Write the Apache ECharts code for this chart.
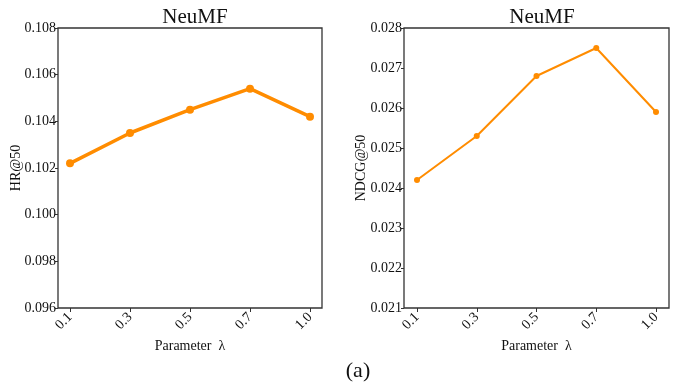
<!DOCTYPE html>
<html>
<head>
<meta charset="utf-8">
<script src="https://cdn.jsdelivr.net/npm/echarts@6/dist/echarts.min.js"></script>
<style>
  html, body { margin: 0; padding: 0; background: #fff; }
  #chart { width: 678px; height: 384px; }
</style>
</head>
<body>
<div id="chart"></div>
<script>
const lambdas = ['0.1', '0.3', '0.5', '0.7', '1.0'];
const hrValues = [0.1022, 0.1035, 0.1045, 0.1054, 0.1042];
const ndcgValues = [0.0242, 0.0253, 0.0268, 0.0275, 0.0259];
const hrTicks = { min: 0.096, max: 0.108, interval: 0.002 };
const ndcgTicks = { min: 0.021, max: 0.028, interval: 0.001 };

const font = '"Liberation Serif", "Times New Roman", serif';
const textColor = '#111';
const orange = '#ff8c00';

// outer grid = frame + y labels, inner grid = data area inset like matplotlib
const chart = echarts.init(document.getElementById('chart'));

const frameY = (t, name, gap) => ({
    type: 'value',
    min: t.min,
    max: t.max,
    interval: t.interval,
    name: name,
    nameLocation: 'middle',
    nameRotate: 90,
    nameGap: gap,
    nameMoveOverlap: false,
    nameTextStyle: { fontFamily: font, fontSize: 14, color: textColor },
    axisLine: { show: false },
    axisTick: { show: true, length: 3, lineStyle: { color: '#333' } },
    axisLabel: {
        fontFamily: font, fontSize: 14, color: textColor, margin: 2,
        formatter: v => v.toFixed(3)
    },
    splitLine: { show: false }
});

const dataX = () => ({
    type: 'category',
    data: lambdas,
    boundaryGap: false,
    name: 'Parameter  λ',
    nameLocation: 'middle',
    nameGap: 28,
    nameTextStyle: { fontFamily: font, fontSize: 14, color: textColor },
    axisLine: { show: false },
    axisTick: { show: true, length: 4, lineStyle: { color: '#333' } },
    axisLabel: { fontFamily: font, fontSize: 14, color: textColor, rotate: 45, margin: 7 }
});

const hiddenY = t => ({ type: 'value', min: t.min, max: t.max, show: false });

chart.setOption({
    animation: false,
    backgroundColor: '#fff',
    title: [
        { text: 'NeuMF', left: 190, top: 2, textAlign: 'center',
          textStyle: { fontFamily: font, fontSize: 21, fontWeight: 'normal', color: textColor } },
        { text: 'NeuMF', left: 537, top: 2, textAlign: 'center',
          textStyle: { fontFamily: font, fontSize: 21, fontWeight: 'normal', color: textColor } },
        { text: '(a)', left: 353, top: 355, textAlign: 'center',
          textStyle: { fontFamily: font, fontSize: 22, fontWeight: 'normal', color: textColor } }
    ],
    grid: [
        { left: 58, right: 356, top: 28, bottom: 76, show: true, borderColor: '#333', borderWidth: 1.3, backgroundColor: 'transparent' },
        { left: 70, right: 368, top: 28, bottom: 76 },
        { left: 404, right: 9, top: 28, bottom: 76, show: true, borderColor: '#333', borderWidth: 1.3, backgroundColor: 'transparent' },
        { left: 417, right: 22, top: 28, bottom: 76 }
    ],
    xAxis: [
        { gridIndex: 0, type: 'value', min: 0, max: 1, show: false },
        Object.assign({ gridIndex: 1 }, dataX()),
        { gridIndex: 2, type: 'value', min: 0, max: 1, show: false },
        Object.assign({ gridIndex: 3 }, dataX())
    ],
    yAxis: [
        Object.assign({ gridIndex: 0 }, frameY(hrTicks, 'HR@50', 35)),
        Object.assign({ gridIndex: 1 }, hiddenY(hrTicks)),
        Object.assign({ gridIndex: 2 }, frameY(ndcgTicks, 'NDCG@50', 36)),
        Object.assign({ gridIndex: 3 }, hiddenY(ndcgTicks))
    ],
    series: [
        {
            type: 'line', xAxisIndex: 1, yAxisIndex: 1, data: hrValues,
            symbol: 'circle', symbolSize: 8,
            lineStyle: { color: orange, width: 3.5 },
            itemStyle: { color: orange }
        },
        {
            type: 'line', xAxisIndex: 3, yAxisIndex: 3, data: ndcgValues,
            symbol: 'circle', symbolSize: 6,
            lineStyle: { color: orange, width: 2 },
            itemStyle: { color: orange }
        }
    ]
});
</script>
</body>
</html>
